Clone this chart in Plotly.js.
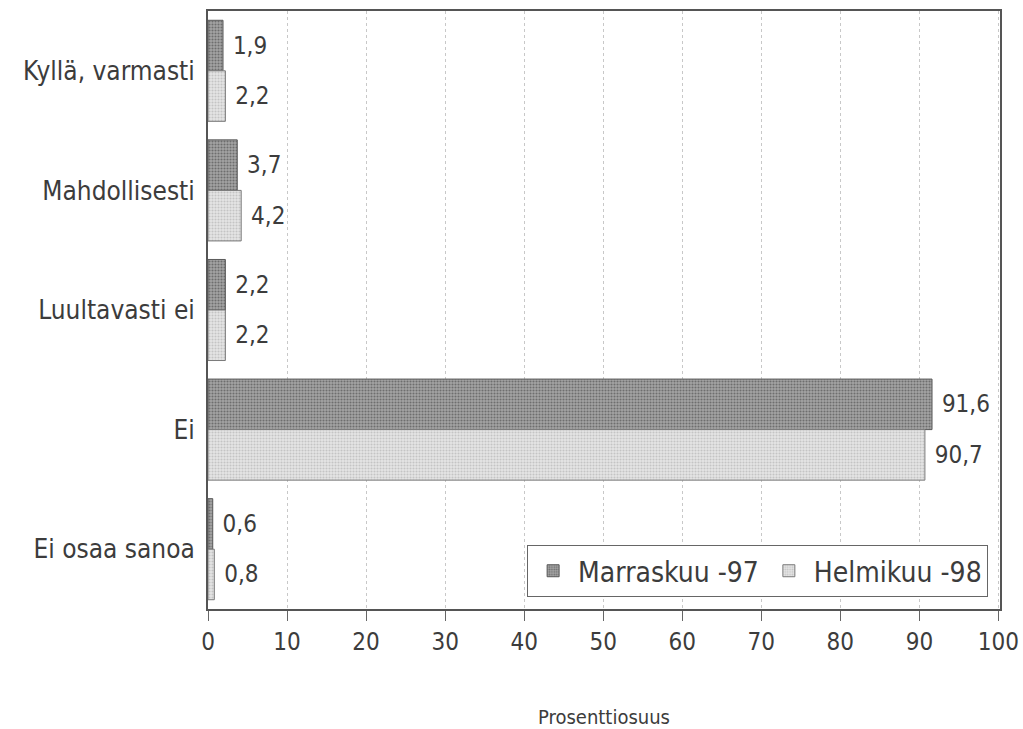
<!DOCTYPE html>
<html>
<head>
<meta charset="utf-8">
<script src="https://cdn.plot.ly/plotly-3.0.1.min.js"></script>
<style>html,body{margin:0;padding:0;background:#fff;}#chart{width:1023px;height:729px;}</style>
</head>
<body>
<div id="chart"></div>
<script>
const categories = ["Kyllä, varmasti", "Mahdollisesti", "Luultavasti ei", "Ei", "Ei osaa sanoa"];
const seriesNames = ["Marraskuu -97", "Helmikuu -98"];
const marraskuu97 = [1.9, 3.7, 2.2, 91.6, 0.6];
const helmikuu98 = [2.2, 4.2, 2.2, 90.7, 0.8];
const xTicks = [0, 10, 20, 30, 40, 50, 60, 70, 80, 90, 100];

const FONT = '"Liberation Sans Narrow", "DejaVu Sans Condensed", sans-serif';
const TXT = '#3c3c3c';
const fmt = v => '\u00a0' + v.toFixed(1).replace('.', ',');

const traces = [
  {
    type: 'bar', orientation: 'h', name: seriesNames[0],
    y: categories, x: marraskuu97,
    text: marraskuu97.map(fmt), textposition: 'outside', cliponaxis: false,
    textfont: {family: FONT, size: 24, color: TXT},
    marker: {color: '#8e8e8e', line: {color: '#5a5a5a', width: 1},
             pattern: {shape: '.', fgcolor: '#6e6e6e', bgcolor: '#a4a4a4', size: 3, solidity: 0.4}},
    hoverinfo: 'skip'
  },
  {
    type: 'bar', orientation: 'h', name: seriesNames[1],
    y: categories, x: helmikuu98,
    text: helmikuu98.map(fmt), textposition: 'outside', cliponaxis: false,
    textfont: {family: FONT, size: 24, color: TXT},
    marker: {color: '#dadada', line: {color: '#7a7a7a', width: 1},
             pattern: {shape: '.', fgcolor: '#c4c4c4', bgcolor: '#e6e6e6', size: 3, solidity: 0.4}},
    hoverinfo: 'skip'
  }
];

const layout = {
  width: 1023, height: 729,
  margin: {l: 208, r: 23, t: 11, b: 120},
  paper_bgcolor: '#ffffff', plot_bgcolor: '#ffffff',
  font: {family: FONT, color: TXT, size: 22},
  barmode: 'group', bargap: 0.155, bargroupgap: 0,
  showlegend: true,
  legend: {
    orientation: 'h', x: 0.985, xanchor: 'right', y: 0.02, yanchor: 'bottom',
    bgcolor: '#ffffff', bordercolor: '#666666', borderwidth: 1,
    font: {family: FONT, size: 28, color: TXT},
    traceorder: 'normal', itemwidth: 40
  },
  xaxis: {
    range: [0, 100.2], tickvals: xTicks, ticktext: xTicks.map(String),
    showgrid: true, gridcolor: '#c8c8c8', griddash: 'dot', gridwidth: 1,
    zeroline: false, showline: true, linecolor: '#555555', linewidth: 2, mirror: true,
    ticks: 'outside', ticklen: 10, tickcolor: '#666666', tickwidth: 1,
    tickfont: {family: FONT, size: 24, color: TXT},
    title: {text: 'Prosenttiosuus', font: {family: FONT, size: 20, color: TXT}, standoff: 58},
    fixedrange: true
  },
  yaxis: {
    type: 'category', autorange: 'reversed',
    showgrid: false, zeroline: false, showline: true, linecolor: '#555555', linewidth: 2, mirror: true,
    ticks: '', tickfont: {family: FONT, size: 26, color: TXT}, ticklabelstandoff: 6,
    fixedrange: true
  }
};

Plotly.newPlot('chart', traces, layout, {displayModeBar: false, staticPlot: true});
</script>
</body>
</html>
